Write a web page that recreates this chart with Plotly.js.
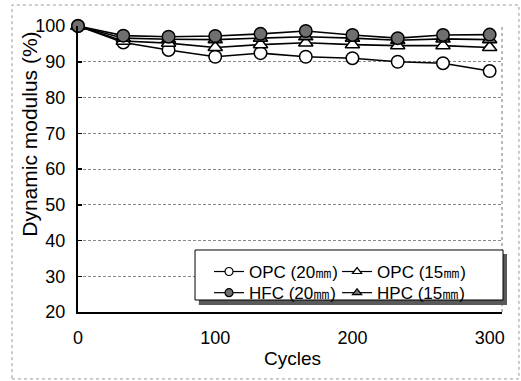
<!DOCTYPE html>
<html>
<head>
<meta charset="utf-8">
<script src="https://cdn.plot.ly/plotly-3.0.1.min.js"></script>
<style>
  html, body { margin: 0; padding: 0; background: #fff; }
  #chart { width: 521px; height: 381px; }
</style>
</head>
<body>
<div id="chart"></div>
<script>
// Freeze-thaw cycles and relative dynamic modulus (%) of each mix
const cycles = [0, 33, 66, 100, 133, 166, 200, 233, 266, 300];
const opc20 = [100, 95.4, 93.3, 91.4, 92.4, 91.4, 91.0, 90.0, 89.6, 87.4];
const opc15 = [100, 95.8, 95.2, 94.0, 94.8, 95.3, 94.8, 94.5, 94.5, 94.0];
const hpc15 = [100, 96.6, 96.3, 96.2, 96.6, 97.0, 96.6, 96.0, 96.4, 96.2];
const hfc20 = [100, 97.3, 97.0, 97.2, 97.8, 98.6, 97.5, 96.6, 97.5, 97.6];

const seriesNames = ['OPC (20㎜)', 'OPC (15㎜)', 'HFC (20㎜)', 'HPC (15㎜)'];
const yTicks = [20, 30, 40, 50, 60, 70, 80, 90, 100];
const xTicks = [0, 100, 200, 300];

const FONT = 'Liberation Sans, Arial, sans-serif';
const LINE = { color: '#000', width: 1.6 };
const FILL = '#6f6f6f';

function series(y, symbol, fill) {
  return {
    x: cycles, y: y, type: 'scatter', mode: 'lines+markers',
    line: LINE, cliponaxis: false, showlegend: false, hoverinfo: 'skip',
    marker: { symbol: symbol, size: 12.5, color: fill, line: { color: '#000', width: 1.5 } }
  };
}
// legend-only entries, each in its own legend box so the 2x2 grid can be placed freely
function legendEntry(name, symbol, fill, legendId) {
  return {
    x: [null], y: [null], type: 'scatter', mode: 'lines+markers', name: name,
    legend: legendId,
    line: { color: '#000', width: 1.2 },
    marker: { symbol: symbol, size: 8, color: fill, line: { color: '#000', width: 1.2 } }
  };
}

const data = [
  series(opc20, 'circle', '#fff'),
  series(opc15, 'triangle-up', '#fff'),
  series(hpc15, 'triangle-up', FILL),
  series(hfc20, 'circle', FILL),
  legendEntry(seriesNames[0], 'circle', '#fff', 'legend'),
  legendEntry(seriesNames[1], 'triangle-up', '#fff', 'legend2'),
  legendEntry(seriesNames[2], 'circle', FILL, 'legend3'),
  legendEntry(seriesNames[3], 'triangle-up', FILL, 'legend4')
];

function legendBox(x, y) {
  return {
    x: x, y: y, xanchor: 'left', yanchor: 'middle',
    bgcolor: 'rgba(0,0,0,0)', borderwidth: 0,
    font: { family: FONT, size: 17, color: '#000' }
  };
}

const layout = {
  width: 521, height: 381,
  margin: { l: 78, r: 19, t: 26, b: 69 },
  paper_bgcolor: '#fff', plot_bgcolor: '#fff',
  font: { family: FONT, color: '#000', size: 18 },
  showlegend: true,
  legend: legendBox(0.309, 0.140),
  legend2: legendBox(0.611, 0.140),
  legend3: legendBox(0.309, 0.066),
  legend4: legendBox(0.611, 0.066),
  xaxis: {
    range: [0, 309], tickvals: xTicks, ticktext: xTicks.map(String),
    showgrid: false, zeroline: false, showline: true, linecolor: '#000', linewidth: 2,
    ticks: '', tickfont: { size: 18 }, ticklabelstandoff: 8, fixedrange: true
  },
  yaxis: {
    range: [20, 100], tickvals: yTicks, ticktext: yTicks.map(String),
    showgrid: true, gridcolor: '#8a8a8a', gridwidth: 1, griddash: '3px,2px',
    zeroline: false, showline: true, linecolor: '#000', linewidth: 2,
    ticks: 'inside', ticklen: 4, tickwidth: 1.5, tickcolor: '#000',
    tickfont: { size: 18 }, ticklabelstandoff: 7, fixedrange: true
  },
  annotations: [
    { text: 'Dynamic modulus (%)', textangle: -90, xref: 'paper', yref: 'paper',
      x: -0.113, y: 0.62, xanchor: 'center', yanchor: 'middle',
      showarrow: false, font: { size: 21 } },
    { text: 'Cycles', xref: 'paper', yref: 'paper', x: 0.505, y: -0.161,
      xanchor: 'center', yanchor: 'middle', showarrow: false, font: { size: 19 } }
  ],
  shapes: [
    // plot-area frame on the right
    { type: 'line', xref: 'paper', yref: 'paper', x0: 1, x1: 1, y0: 0, y1: 1,
      line: { color: '#777', width: 1, dash: 'dot' } },
    // chart-area frame
    { type: 'rect', xref: 'paper', yref: 'paper', x0: -0.1557, x1: 1.040, y0: -0.234, y1: 1.0734,
      line: { color: '#999', width: 1, dash: 'dot' } },
    // legend drop shadow and legend box
    { type: 'rect', xref: 'paper', yref: 'paper', layer: 'above',
      x0: 0.285, x1: 1.0118, y0: 0.0245, y1: 0.203,
      fillcolor: '#5a5a5a', line: { width: 0 } },
    { type: 'rect', xref: 'paper', yref: 'paper', layer: 'above',
      x0: 0.276, x1: 1.0024, y0: 0.042, y1: 0.2168,
      fillcolor: '#fff', line: { color: '#000', width: 1 } }
  ]
};

Plotly.newPlot('chart', data, layout, { displayModeBar: false, staticPlot: true });
</script>
</body>
</html>
